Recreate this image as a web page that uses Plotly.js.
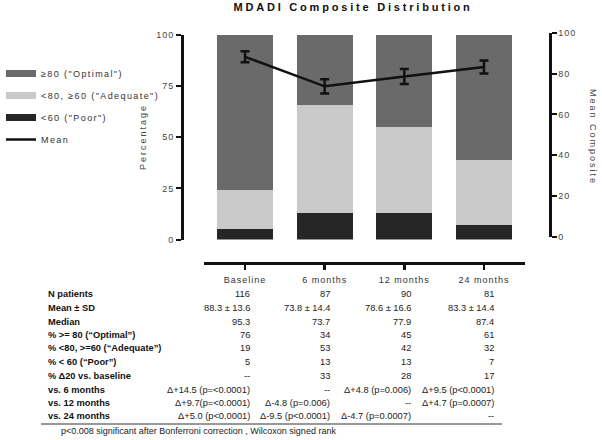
<!DOCTYPE html>
<html>
<head>
<meta charset="utf-8">
<script src="https://cdn.plot.ly/plotly-3.0.1.min.js"></script>
<style>
  html, body { margin: 0; padding: 0; background: #fff; }
  #chart { width: 602px; height: 440px; }
  .gtitle { letter-spacing: 2.8px; }
  .xtick text, .ytick text, .y2tick text { letter-spacing: 1px; }
  .legendtext { letter-spacing: 1.4px; }
  .annotation[data-index="0"] text, .annotation[data-index="1"] text { letter-spacing: 2px; }
</style>
</head>
<body>
<div id="chart"></div>
<script>
// ---- data ----
const categories = ['Baseline', '6 months', '12 months', '24 months'];
const poor = [5, 13, 13, 7];
const adequate = [19, 53, 42, 32];
const optimal = [76, 34, 45, 61];
const meanComposite = [88.3, 73.8, 78.6, 83.3];
const meanErr = [2.7, 3.5, 3.7, 3.2];
const seriesNames = ['≥80 ("Optimal")', '<80, ≥60 ("Adequate")', '<60 ("Poor")', 'Mean'];
const leftTicks = [0, 25, 50, 75, 100];
const rightTicks = [0, 20, 40, 60, 80, 100];

const rowLabels = ['N patients', 'Mean ± SD', 'Median', '% >= 80 (“Optimal”)', '% <80, >=60 (“Adequate”)',
  '% < 60 (“Poor”)', '% Δ20 vs. baseline', 'vs. 6 months', 'vs. 12 months', 'vs. 24 months'];
const nPatients = ['116', '87', '90', '81'];
const meanSd = ['88.3 ± 13.6', '73.8 ± 14.4', '78.6 ± 16.6', '83.3 ± 14.4'];
const medianVals = ['95.3', '73.7', '77.9', '87.4'];
const pctOptimal = ['76', '34', '45', '61'];
const pctAdequate = ['19', '53', '42', '32'];
const pctPoor = ['5', '13', '13', '7'];
const pctDelta20 = ['--', '33', '28', '17'];
const vs6 = ['Δ+14.5 (p=<0.0001)', '--', 'Δ+4.8 (p=0.006)', 'Δ+9.5 (p<0.0001)'];
const vs12 = ['Δ+9.7(p=<0.0001)', 'Δ-4.8 (p=0.006)', '--', 'Δ+4.7 (p=0.0007)'];
const vs24 = ['Δ+5.0 (p<0.0001)', 'Δ-9.5 (p<0.0001)', 'Δ-4.7 (p=0.0007)', '--'];
const footnote = 'p<0.008 significant after Bonferroni correction , Wilcoxon signed rank';

// ---- styling / layout helpers ----
const W = 602, H = 440;
const px = v => v / W;
const py = v => 1 - v / H;
const FONT = 'Liberation Sans, Arial, Helvetica, sans-serif';
const colors = { optimal: '#6a6a6a', adequate: '#c9c9c9', poor: '#262626', mean: '#111111' };

const tableRows = [nPatients, meanSd, medianVals, pctOptimal, pctAdequate, pctPoor, pctDelta20, vs6, vs12, vs24];
const rowY = [294, 308, 322, 335, 348, 362, 376, 390, 403, 416];
const colRight = [252, 332, 413, 496];

const traces = [
  { type: 'bar', x: categories, y: poor, marker: { color: colors.poor }, showlegend: false, hoverinfo: 'skip' },
  { type: 'bar', x: categories, y: adequate, marker: { color: colors.adequate }, showlegend: false, hoverinfo: 'skip' },
  { type: 'bar', x: categories, y: optimal, marker: { color: colors.optimal }, showlegend: false, hoverinfo: 'skip' },
  { type: 'scatter', mode: 'lines', x: categories, y: meanComposite, yaxis: 'y2', name: seriesNames[3],
    line: { color: colors.mean, width: 2.5 },
    error_y: { type: 'data', array: meanErr, visible: true, thickness: 2.5, width: 4.5, color: colors.mean },
    legendgroup: 'd', legendrank: 4 },
  // legend-only entries for the bar series
  { type: 'scatter', mode: 'lines', x: [null], y: [null], name: seriesNames[0], line: { color: colors.optimal, width: 7 }, legendgroup: 'a', legendrank: 1 },
  { type: 'scatter', mode: 'lines', x: [null], y: [null], name: seriesNames[1], line: { color: colors.adequate, width: 7 }, legendgroup: 'b', legendrank: 2 },
  { type: 'scatter', mode: 'lines', x: [null], y: [null], name: seriesNames[2], line: { color: colors.poor, width: 7 }, legendgroup: 'c', legendrank: 3 }
];

const annotations = [
  { text: 'Percentage', xref: 'paper', yref: 'paper', x: px(143), y: py(137), textangle: -90,
    showarrow: false, font: { size: 9, color: '#444', family: FONT }, xanchor: 'center', yanchor: 'middle' },
  { text: 'Mean Composite', xref: 'paper', yref: 'paper', x: px(593), y: py(137), textangle: 90,
    showarrow: false, font: { size: 9, color: '#444', family: FONT }, xanchor: 'center', yanchor: 'middle' }
];
rowLabels.forEach((lab, r) => {
  annotations.push({ text: '<b>' + lab + '</b>', xref: 'paper', yref: 'paper', x: px(46), y: py(rowY[r]),
    xanchor: 'left', yanchor: 'middle', showarrow: false, font: { size: 9.3, color: '#111', family: FONT } });
  tableRows[r].forEach((val, c) => {
    annotations.push({ text: val, xref: 'paper', yref: 'paper', x: px(colRight[c]), y: py(rowY[r]),
      xanchor: 'right', yanchor: 'middle', showarrow: false, font: { size: 9.3, color: '#222', family: FONT } });
  });
});
annotations.push({ text: footnote, xref: 'paper', yref: 'paper', x: px(59), y: py(431), xanchor: 'left', yanchor: 'middle',
  showarrow: false, font: { size: 9, color: '#222', family: FONT } });

const axisCommon = {
  showgrid: false, zeroline: false, showline: true, linecolor: '#111', linewidth: 2.5,
  ticks: 'outside', ticklen: 5, tickwidth: 2, tickcolor: '#111',
  tickfont: { size: 9, color: '#444', family: FONT }, fixedrange: true
};

const layout = {
  width: W, height: H,
  margin: { l: 0, r: 0, t: 0, b: 0 },
  paper_bgcolor: '#fff', plot_bgcolor: 'rgba(0,0,0,0)',
  font: { family: FONT },
  barmode: 'stack', bargap: 0.297,
  title: { text: '<b>MDADI Composite Distribution</b>', x: px(353), xanchor: 'center', y: py(7), yanchor: 'middle',
    font: { size: 11, color: '#111', family: FONT } },
  xaxis: Object.assign({}, axisCommon, { type: 'category', domain: [px(204), px(525)], anchor: 'free', position: py(263),
    range: [-0.515, 3.515], ticklen: 5, tickwidth: 2.5, ticklabelstandoff: 3,
    tickfont: { size: 9, color: '#333', family: FONT } }),
  yaxis: Object.assign({}, axisCommon, { domain: [py(239.5), py(35)], range: [0, 100], anchor: 'free', position: px(182),
    tickvals: leftTicks }),
  yaxis2: Object.assign({}, axisCommon, { domain: [py(236.5), py(33)], side: 'right', range: [0, 100], anchor: 'free', position: px(550),
    tickvals: rightTicks }),
  showlegend: true,
  legend: { x: px(1), xanchor: 'left', y: py(59), yanchor: 'top', traceorder: 'grouped', tracegroupgap: 3,
    font: { size: 9, color: '#333', family: FONT }, bgcolor: 'rgba(0,0,0,0)', itemwidth: 30 },
  annotations: annotations,
  shapes: [
    { type: 'line', xref: 'paper', yref: 'paper', x0: px(41), x1: px(502), y0: py(424), y1: py(424),
      line: { color: '#333', width: 1 } }
  ]
};

Plotly.newPlot('chart', traces, layout, { displayModeBar: false, staticPlot: true });
</script>
</body>
</html>
